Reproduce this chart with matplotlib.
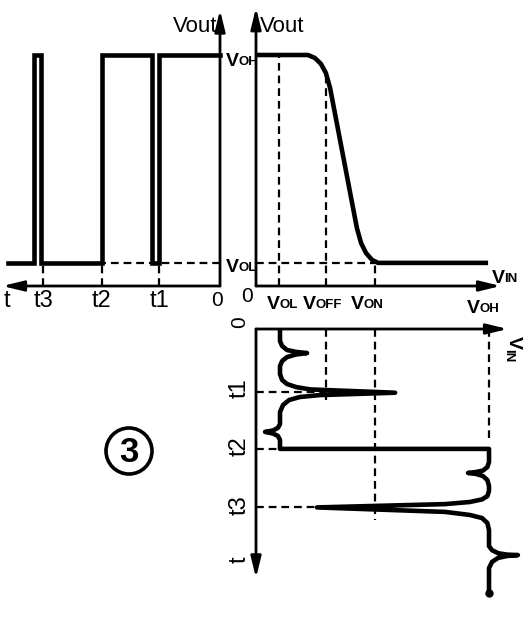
import matplotlib
matplotlib.use('Agg')
import matplotlib.pyplot as plt
from matplotlib.patches import Circle

W, H = 530, 622
SANS = ['Liberation Sans', 'DejaVu Sans']

# voltage levels (same units on the Vin and Vout axes)
VOL, VOFF, VON, VOH = 1.0, 3.0, 5.1, 10.0
lev_names = ['OL', 'OFF', 'ON', 'OH']

# marked instants
t_marks = [2.6, 5.05, 7.55]
t_names = ['t1', 't2', 't3']

# transfer characteristic Vout(Vin)
vin_tc = [0.0, 2.23, 2.53, 2.79, 3.0, 3.18, 4.33, 4.51, 4.72, 4.98, 5.24, 9.96]
vout_tc = [10.0, 10.0, 9.87, 9.61, 9.22, 8.57, 2.51, 1.86, 1.43, 1.13, 1.0, 1.0]

# input waveform Vin(t), time runs downwards
t_in = [0.0, 0.51, 0.72, 0.89, 0.97, 1.02, 1.08, 1.19, 1.36, 1.57, 1.91, 2.16,
        2.33, 2.46, 2.56, 2.7, 2.8, 2.88, 3.01, 3.22, 3.52, 4.03, 4.19, 4.3,
        4.36, 4.43, 4.53, 4.7, 5.08, 5.08, 5.64, 5.85, 6.0, 6.06, 6.1, 6.14,
        6.23, 6.4, 6.65, 6.86, 7.08, 7.22, 7.33, 7.42, 7.56, 7.75, 7.88, 8.01,
        8.22, 8.52, 9.2, 9.37, 9.5, 9.56, 9.58, 9.62, 9.7, 9.87, 10.13, 11.19]
v_in = [1.03, 1.03, 1.12, 1.33, 1.72, 2.19, 1.72, 1.33, 1.12, 1.03, 1.03, 1.12,
        1.33, 1.72, 2.32, 5.97, 2.75, 1.89, 1.42, 1.16, 1.03, 1.03, 0.94, 0.73,
        0.39, 0.73, 0.94, 1.03, 1.03, 10.0, 10.0, 9.93, 9.74, 9.44, 9.1, 9.44,
        9.74, 9.93, 10.0, 10.0, 9.93, 9.7, 9.18, 8.11, 2.62, 8.11, 9.18, 9.7,
        9.93, 10.0, 10.0, 10.13, 10.39, 10.77, 11.24, 10.77, 10.39, 10.13, 10.0, 10.0]

# output waveform Vout(t), time runs to the left
t_out = [9.05, 7.95, 7.95, 7.65, 7.65, 5.05, 5.05, 2.9, 2.9, 2.6, 2.6, 0.0]
v_out = [1.0, 1.0, 10.0, 10.0, 1.0, 1.0, 10.0, 10.0, 1.0, 1.0, 10.0, 10.0]

fig = plt.figure(figsize=(W / 100, H / 100), dpi=100)


def layer(ox, oy, sx, sy):
    # full-figure axes; (ox, oy) is the pixel of the data origin
    ax = fig.add_axes([0, 0, 1, 1])
    ax.set_xlim((0 - ox) / sx, (W - ox) / sx)
    ax.set_ylim((oy - H) / sy, (oy - 0) / sy)
    ax.axis('off')
    ax.patch.set_visible(False)
    return ax


ax_t = layer(220, 286, -23.4, 23.1)   # Vout vs t
ax_c = layer(256, 286, 23.3, 23.1)    # Vout vs Vin
ax_b = layer(256, 329, 23.3, -23.6)   # t vs Vin
ov = layer(0, 0, 1, -1)               # pixel overlay for lettering

thick = dict(color='k', lw=3.3, solid_joinstyle='round', solid_capstyle='butt')
dash = dict(color='k', lw=1.6, ls=(0, (3.5, 2.2)))
arr = dict(arrowstyle='-|>,head_length=0.9,head_width=0.22', lw=2.0, color='k',
           shrinkA=0, shrinkB=0, mutation_scale=14)


def axis_arrow(ax, start, tip):
    ax.annotate('', xy=tip, xytext=start, arrowprops=arr)


# --- output vs time ---
axis_arrow(ax_t, (0, 0), (0, 11.95))
axis_arrow(ax_t, (0, 0), (9.3, 0))
ax_t.plot([0, t_marks[1]], [VOL, VOL], **dash)
for tm in t_marks:
    ax_t.plot([tm, tm], [0, VOL], **dash)
ax_t.plot(t_out, v_out, color='k', lw=3.3, solid_joinstyle='miter')

# --- transfer curve ---
axis_arrow(ax_c, (0, 0), (0, 12.05))
axis_arrow(ax_c, (0, 0), (10.5, 0))
ax_c.plot([0, VON], [VOL, VOL], **dash)
ax_c.plot([VOL, VOL], [0, VOH], **dash)
ax_c.plot([VOFF, VOFF], [0, 9.05], **dash)
ax_c.plot([VON, VON], [0, VOL], **dash)
ax_c.plot(vin_tc, vout_tc, **thick)

# --- input vs time ---
axis_arrow(ax_b, (0, 0), (10.8, 0))
axis_arrow(ax_b, (0, 0), (0, 10.55))
ax_b.plot([VOFF, VOFF], [0, 3.0], **dash)
ax_b.plot([VON, VON], [0, 8.1], **dash)
ax_b.plot([VOH, VOH], [0, 4.6], **dash)
ax_b.plot([0, 3.0], [2.66, 2.66], **dash)
ax_b.plot([0, VOL], [5.08, 5.08], **dash)
ax_b.plot([0, 2.6], [7.56, 7.56], **dash)
ax_b.plot(v_in, t_in, **thick)
ax_b.plot(v_in[-1:], t_in[-1:], 'o', color='k', ms=5)


# --- lettering ---
def vlabel(x, y, sub, big=14, small=9.5):
    t = ov.text(x, y, 'V', fontsize=big, ha='left', va='baseline',
                family=SANS, fontweight='bold')
    ov.annotate(sub, xy=(0.95, 0.12), xycoords=t, fontsize=small, ha='left',
                va='bottom', family=SANS, fontweight='bold')


ov.text(173, 32, 'Vout', fontsize=16, family=SANS, va='baseline')
ov.text(260, 32, 'Vout', fontsize=16, family=SANS, va='baseline')
vlabel(226, 66, 'OH')
vlabel(226, 272, 'OL')
vlabel(492, 283, 'IN')
for x0, name in zip([267, 303, 351], lev_names[:3]):
    vlabel(x0, 309, name)
vlabel(467, 313, lev_names[3])

ax_t.text(9.1, -0.65, 't', fontsize=17, family=SANS, ha='center', va='center')
for tm, nm in zip(t_marks, t_names):
    ax_t.text(tm, -0.65, nm, fontsize=17, family=SANS, ha='center', va='center')
ov.text(217, 300, '0', fontsize=15, family=SANS, ha='center', va='center')
ov.text(247, 297, '0', fontsize=15, family=SANS, ha='center', va='center')

for tm, nm in zip(t_marks, t_names):
    ax_b.text(-0.69, tm + 0.34, nm, fontsize=17, family=SANS, rotation=90,
              rotation_mode='anchor', ha='left', va='center')
ov.text(240, 322, '0', fontsize=15, family=SANS, rotation=90, ha='center', va='center')
ov.text(240, 560, 't', fontsize=17, family=SANS, rotation=90, ha='center', va='center')
ov.text(513, 342, 'V', fontsize=14, family=SANS, fontweight='bold', rotation=-90,
        ha='center', va='center')
ov.text(508, 356, 'IN', fontsize=9.5, family=SANS, fontweight='bold', rotation=-90,
        ha='center', va='center')

ov.add_patch(Circle((129, 451), 23, fill=False, lw=2.6, color='k'))
ov.text(129, 452, '3', fontsize=25, family=SANS, fontweight='bold',
        ha='center', va='center')

fig.savefig('out.png', dpi=100, facecolor='white')
